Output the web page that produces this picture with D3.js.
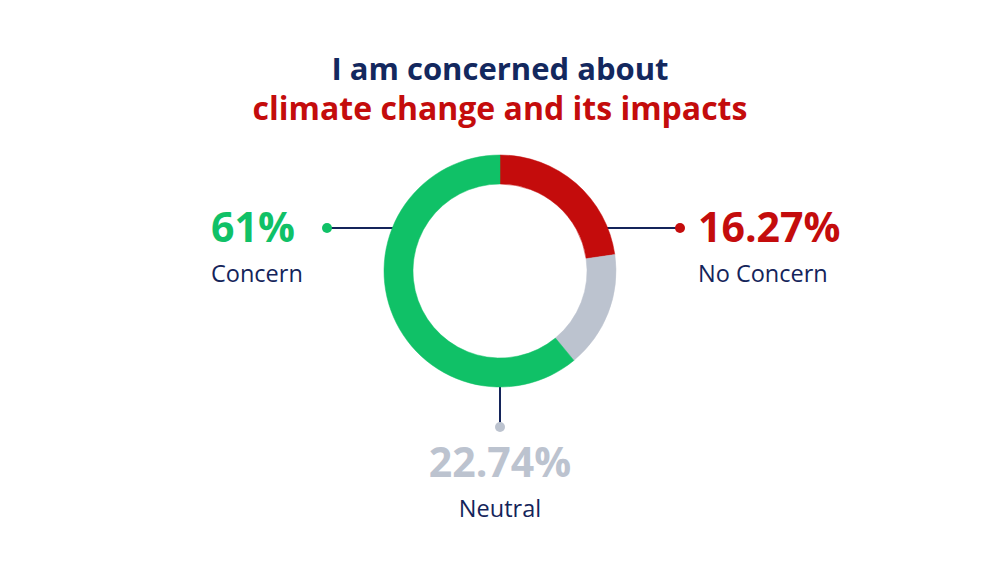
<!DOCTYPE html>
<html>
<head>
<meta charset="utf-8">
<script src="https://cdn.jsdelivr.net/npm/d3@7"></script>
<style>
  body { margin: 0; background: #fff; }
  svg { display: block; }
  text { font-family: "Open Sans", Lato, sans-serif; }
</style>
</head>
<body>
<div id="wrapper"></div>
<script>
// labels as printed on the chart
const categories = ["Concern", "No Concern", "Neutral"];
const labelValues = ["61%", "16.27%", "22.74%"];
// slice sizes as drawn in the ring (clockwise from top: red, gray, green)
const sliceOrder = ["No Concern", "Neutral", "Concern"];
const sliceShares = [22.74, 16.27, 61];
const colors = {"Concern": "#10c167", "No Concern": "#c40c0c", "Neutral": "#bcc3cf"};

function draw_chart() {
  const width = 1000, height = 563;
  const cx = 500, cy = 271;
  const outerR = 116, innerR = 87;
  const navy = "#14245a";

  const svg = d3.select("#wrapper")
    .append("svg")
    .attr("width", width)
    .attr("height", height);

  // title
  svg.append("text")
    .attr("x", cx).attr("y", 80)
    .attr("text-anchor", "middle")
    .attr("font-size", 31).attr("font-weight", 700)
    .attr("fill", "#13285e")
    .text("I am concerned about");
  svg.append("text")
    .attr("x", cx).attr("y", 120)
    .attr("text-anchor", "middle")
    .attr("font-size", 32).attr("font-weight", 700)
    .attr("fill", "#c40c0c")
    .text("climate change and its impacts");

  // leader lines first so the ring sits over them
  const leaders = {
    "Concern":    {x1: 327, y1: 228, x2: 395, y2: 228, dx: 327, dy: 228},
    "No Concern": {x1: 605, y1: 228, x2: 680, y2: 228, dx: 680, dy: 228},
    "Neutral":    {x1: 500, y1: 380, x2: 500, y2: 427, dx: 500, dy: 427}
  };
  const lg = svg.append("g");
  categories.forEach(c => {
    const l = leaders[c];
    lg.append("line")
      .attr("x1", l.x1).attr("y1", l.y1)
      .attr("x2", l.x2).attr("y2", l.y2)
      .attr("stroke", navy).attr("stroke-width", 2);
    lg.append("circle")
      .attr("cx", l.dx).attr("cy", l.dy).attr("r", 5)
      .attr("fill", colors[c]);
  });

  // donut
  const pie = d3.pie().sort(null).value(d => d.v);
  const arc = d3.arc().innerRadius(innerR).outerRadius(outerR);
  const slices = pie(sliceOrder.map((k, i) => ({k: k, v: sliceShares[i]})));
  svg.append("g")
    .attr("transform", `translate(${cx},${cy})`)
    .selectAll("path")
    .data(slices)
    .join("path")
    .attr("d", arc)
    .attr("fill", d => colors[d.data.k])
    .attr("stroke", d => colors[d.data.k])
    .attr("stroke-width", 0.5);

  // value labels
  const labelPos = {
    "Concern":    {x: 211, y: 242, sub: 282, anchor: "start"},
    "No Concern": {x: 698, y: 242, sub: 282, anchor: "start"},
    "Neutral":    {x: 500, y: 477, sub: 517, anchor: "middle"}
  };
  categories.forEach((c, i) => {
    const p = labelPos[c];
    svg.append("text")
      .attr("x", p.x).attr("y", p.y)
      .attr("text-anchor", p.anchor)
      .attr("font-size", 41).attr("font-weight", 700)
      .attr("fill", colors[c])
      .text(labelValues[i]);
    svg.append("text")
      .attr("x", p.x).attr("y", p.sub)
      .attr("text-anchor", p.anchor)
      .attr("font-size", 23.5)
      .attr("fill", navy)
      .text(c);
  });
}

draw_chart();
</script>
</body>
</html>
